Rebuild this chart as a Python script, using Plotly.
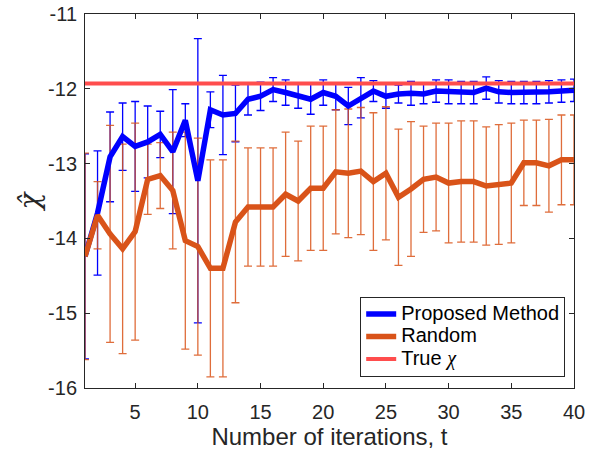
import plotly.graph_objects as go

# ---------------- data ----------------
iterations = list(range(1, 41))

proposed_mean = [-14.24, -13.66, -12.91, -12.64, -12.77, -12.71, -12.61, -12.84, -12.42, -13.23,
                 -12.28, -12.35, -12.33, -12.14, -12.10, -12.01, -12.05, -12.10, -12.14, -12.05,
                 -12.10, -12.23, -12.12, -12.03, -12.10, -12.07, -12.06, -12.07, -12.03, -12.04,
                 -12.05, -12.05, -11.99, -12.04, -12.05, -12.05, -12.05, -12.04, -12.03, -12.02]
proposed_std = [1.37, 0.83, 0.60, 0.45, 0.60, 0.48, 0.31, 0.83, 0.22, 1.90,
                0.24, 0.53, 0.38, 0.21, 0.19, 0.16, 0.17, 0.16, 0.20, 0.17,
                0.18, 0.25, 0.27, 0.14, 0.16, 0.12, 0.16, 0.13, 0.15, 0.16,
                0.15, 0.15, 0.15, 0.15, 0.15, 0.15, 0.15, 0.15, 0.15, 0.15]

random_mean = [-14.24, -13.69, -13.94, -14.14, -13.91, -13.21, -13.16, -13.36, -14.03, -14.11,
               -14.40, -14.40, -13.78, -13.58, -13.58, -13.58, -13.41, -13.50, -13.33, -13.33,
               -13.11, -13.13, -13.10, -13.24, -13.13, -13.45, -13.34, -13.21, -13.18, -13.26,
               -13.24, -13.24, -13.30, -13.28, -13.26, -12.99, -12.99, -13.03, -12.95, -12.95]
random_std = [1.38, 0.45, 1.45, 1.40, 1.45, 0.47, 0.44, 0.78, 1.45, 1.45,
              1.45, 1.45, 1.08, 0.79, 0.79, 0.79, 0.83, 0.80, 0.83, 0.83,
              0.83, 0.86, 0.85, 0.92, 0.89, 0.91, 0.90, 0.71, 0.72, 0.80,
              0.81, 0.81, 0.79, 0.80, 0.80, 0.57, 0.57, 0.62, 0.60, 0.60]

true_chi = -11.93

x_ticks = [5, 10, 15, 20, 25, 30, 35, 40]
y_ticks = [-16, -15, -14, -13, -12, -11]
y_tick_labels = ["-16", "-15", "-14", "-13", "-12", "-11"]

# ---------------- style ----------------
BLUE = "#0000FF"
ORANGE = "#D95319"
RED = "#FF4D4D"
AX = "#262626"
SANS = "Liberation Sans, Arial, sans-serif"
SERIF = "DejaVu Serif, Liberation Serif, serif"


def big(txt):
    return "<span style='font-size:20px'>" + txt + "</span>"


fig = go.Figure()

# error bars (drawn under the lines)
fig.add_trace(go.Scatter(
    x=iterations, y=proposed_mean, mode="markers", cliponaxis=False,
    marker=dict(size=1, opacity=0), showlegend=False, hoverinfo="skip",
    error_y=dict(type="data", array=proposed_std, visible=True,
                 color=BLUE, thickness=1.3, width=4)))
fig.add_trace(go.Scatter(
    x=iterations, y=random_mean, mode="markers", cliponaxis=False,
    marker=dict(size=1, opacity=0), showlegend=False, hoverinfo="skip",
    error_y=dict(type="data", array=random_std, visible=True,
                 color="rgba(217,83,25,0.85)", thickness=1.3, width=4)))

# lines
fig.add_trace(go.Scatter(
    x=iterations, y=proposed_mean, mode="lines", name=big("Proposed Method"),
    line=dict(color=BLUE, width=5.5)))
fig.add_trace(go.Scatter(
    x=iterations, y=random_mean, mode="lines", name=big("Random"),
    line=dict(color=ORANGE, width=5.5)))
fig.add_trace(go.Scatter(
    x=iterations, y=[true_chi] * len(iterations), mode="lines",
    name=big("True <span style='font-family:Liberation Serif'><i>χ</i></span>"),
    line=dict(color=RED, width=4)))

fig.update_layout(
    width=601, height=454,
    margin=dict(l=85, r=27, t=14, b=66),
    paper_bgcolor="white", plot_bgcolor="white",
    font=dict(family=SANS, size=20, color=AX),
    showlegend=True,
    legend=dict(
        x=0.982, y=0.03, xanchor="right", yanchor="bottom",
        bgcolor="white", bordercolor=AX, borderwidth=1,
        font=dict(family=SANS, size=15, color="black"),
        tracegroupgap=0, itemwidth=30,
    ),
    xaxis=dict(
        range=[1, 40], tickvals=x_ticks, ticks="inside", ticklen=5,
        tickcolor=AX, showline=True, linecolor=AX, linewidth=1, mirror="ticks",
        showgrid=False, zeroline=False, automargin=False,
        tickfont=dict(family=SANS, size=20, color=AX), ticklabelstandoff=6,
        title=dict(text="Number of iterations, t",
                   font=dict(family=SANS, size=24, color=AX), standoff=5),
    ),
    yaxis=dict(
        range=[-16, -11], tickvals=y_ticks, ticktext=y_tick_labels,
        ticks="inside", ticklen=5, tickcolor=AX, showline=True, linecolor=AX,
        linewidth=1, mirror="ticks", showgrid=False, zeroline=False, automargin=False,
        tickfont=dict(family=SANS, size=20, color=AX), ticklabelstandoff=3,
        ticklabeloverflow="allow",
        title=dict(text="χ̂", font=dict(family=SERIF, size=28, color=AX, style="italic"),
                   standoff=0),
    ),
)

# remove the default 8px page margin so the figure fills the window exactly
fig.write_html("out.html", config={"displayModeBar": False},
               post_script="document.body.style.margin='0';")
